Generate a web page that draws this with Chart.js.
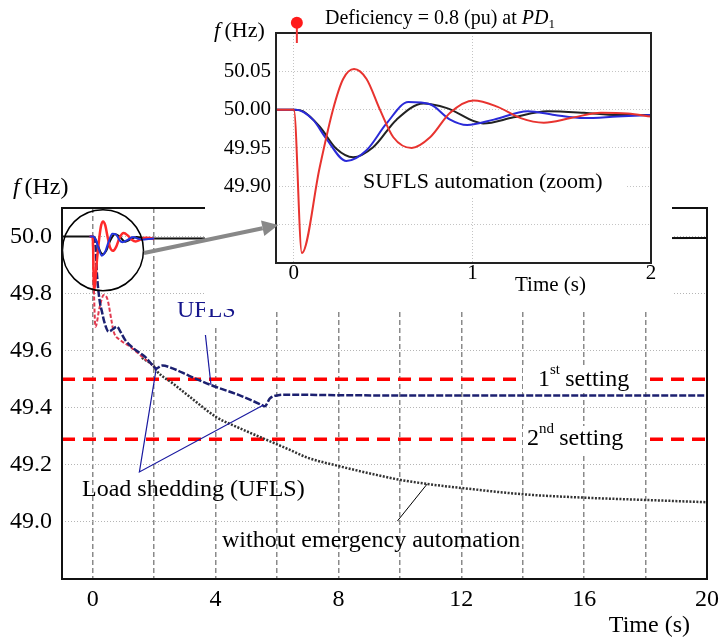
<!DOCTYPE html>
<html><head><meta charset="utf-8">
<script src="https://cdn.jsdelivr.net/npm/chart.js@4/dist/chart.umd.min.js"></script>
<style>
html,body{margin:0;padding:0;background:#fff;}
#wrap{position:relative;width:725px;height:643px;overflow:hidden;background:#fff;}
#main{position:absolute;left:0;top:0;}
#inset{position:absolute;left:140px;top:0;}
</style></head><body>
<div id="wrap"><canvas id="main" width="725" height="643"></canvas><canvas id="inset" width="540" height="310"></canvas></div>
<script>
const FONT = '"Liberation Serif","Times New Roman",serif';

// tick values
const mainXTicks = [0, 2, 4, 6, 8, 10, 12, 14, 16, 18, 20];
const mainYTicks = [49.0, 49.2, 49.4, 49.6, 49.8, 50.0];
const insetXTicks = [0, 1, 2];
const insetYTicks = [49.85, 49.90, 49.95, 50.00, 50.05];

// SUFLS automation curves (time s, frequency Hz)
const suflsRedT = [-0.1, 0, 0.045, 0.144, 0.219, 0.276, 0.337, 0.407, 0.482, 0.557, 0.66, 0.763, 0.875, 1.007, 1.138, 1.27, 1.40, 1.55, 1.72, 1.87, 2.0];
const suflsRedF = [50.0, 50.0, 49.813, 49.924, 50.0, 50.04, 50.053, 50.04, 50.0, 49.964, 49.95, 49.964, 49.996, 50.012, 50.004, 49.989, 49.983, 49.989, 49.996, 49.995, 49.991];
const suflsBlueT = [-0.1, 0, 0.013, 0.107, 0.182, 0.294, 0.407, 0.519, 0.641, 0.763, 0.875, 0.97, 1.12, 1.31, 1.46, 1.625, 1.81, 2.0];
const suflsBlueF = [50.0, 50.0, 50.0, 49.987, 49.962, 49.933, 49.947, 49.982, 50.010, 50.007, 49.987, 49.980, 49.987, 49.998, 49.993, 49.989, 49.991, 49.993];
const suflsBlackT = [-0.1, 0, 0.05, 0.144, 0.238, 0.332, 0.444, 0.575, 0.725, 0.857, 1.06, 1.23, 1.42, 1.625, 1.81, 2.0];
const suflsBlackF = [50.0, 50.0, 49.998, 49.978, 49.949, 49.938, 49.951, 49.987, 50.008, 50.002, 49.982, 49.990, 49.998, 49.996, 49.993, 49.993];
const preEventT = [-1];
const preEventF = [50.0];
const lateT = [20];
const lateF = [49.995];

// UFLS curve (navy)
const uflsT = [0, 0.05, 0.09, 0.14, 0.23, 0.30, 0.38, 0.52, 0.65, 0.79, 0.90, 1.06, 1.33, 1.70, 1.99, 2.06, 2.27, 2.60, 3.14, 3.84, 4.75, 5.50, 5.60, 5.77, 6.04, 6.37, 8, 12, 16, 20];
const uflsF = [50.0, 49.99, 49.97, 49.865, 49.772, 49.737, 49.70, 49.667, 49.675, 49.684, 49.667, 49.637, 49.608, 49.579, 49.544, 49.538, 49.548, 49.538, 49.512, 49.48, 49.445, 49.41, 49.405, 49.433, 49.444, 49.446, 49.444, 49.443, 49.443, 49.443];
// UFLS curve (red dashed)
const uflsRedT = [0, 0.03, 0.09, 0.22, 0.36, 0.48, 0.62, 0.68, 0.90, 1.22, 1.54, 1.87, 2.0];
const uflsRedF = [50.0, 49.85, 49.684, 49.75, 49.795, 49.78, 49.70, 49.667, 49.637, 49.614, 49.585, 49.556, 49.545];
// without emergency automation
const noAutoT = [1.6, 2.0, 2.11, 2.6, 3.14, 4.03, 4.75, 5.61, 6.0, 6.47, 7, 8, 9.27, 10.03, 10.89, 12.08, 14, 16, 18, 20];
const noAutoF = [49.575, 49.544, 49.526, 49.486, 49.44, 49.367, 49.33, 49.29, 49.272, 49.25, 49.225, 49.196, 49.164, 49.147, 49.133, 49.118, 49.097, 49.085, 49.077, 49.069];
// UFLS settings
const settingT = [-1, 20];
const setting1F = [49.5, 49.5];
const setting2F = [49.29, 49.29];

function pts(t, f) { return t.map((x, i) => ({ x: x, y: f[i] })); }

function fHz(ctx, x, y, size) {
  ctx.fillStyle = '#000';
  ctx.textAlign = 'left';
  ctx.textBaseline = 'alphabetic';
  ctx.font = 'italic ' + size + 'px ' + FONT;
  ctx.fillText('f', x, y);
  const w = ctx.measureText('f').width;
  ctx.font = size + 'px ' + FONT;
  ctx.fillText('(Hz)', x + w + size * 0.2, y);
}

function supText(ctx, x, y, a, sup, b, size, gapBox) {
  ctx.fillStyle = '#fff';
  ctx.fillRect(gapBox[0], gapBox[1], gapBox[2], gapBox[3]);
  ctx.fillStyle = '#000';
  ctx.textAlign = 'left';
  ctx.textBaseline = 'alphabetic';
  ctx.font = size + 'px ' + FONT;
  ctx.fillText(a, x, y);
  let cx = x + ctx.measureText(a).width;
  ctx.font = Math.round(size * 0.62) + 'px ' + FONT;
  ctx.fillText(sup, cx, y - size * 0.48);
  cx += ctx.measureText(sup).width + size * 0.22;
  ctx.font = size + 'px ' + FONT;
  ctx.fillText(b, cx, y);
}

const mainAnno = {
  id: 'mainAnno',
  afterDatasetsDraw(chart) {
    const ctx = chart.ctx, xs = chart.scales.x, ys = chart.scales.y, a = chart.chartArea;
    const P = (t, f) => [xs.getPixelForValue(t), ys.getPixelForValue(f)];
    ctx.save();
    supText(ctx, 538, 386, '1', 'st', 'setting', 24, [523, 366, 122, 27]);
    supText(ctx, 527, 445, '2', 'nd', 'setting', 24, [523, 426, 122, 27]);
    ctx.fillStyle = '#fff';
    ctx.fillRect(206, 300, 32, 27);
    ctx.fillStyle = '#16168c';
    ctx.font = '24px ' + FONT;
    ctx.textAlign = 'left';
    ctx.textBaseline = 'alphabetic';
    ctx.fillText('UFLS', 177, 317);
    ctx.strokeStyle = '#1a1aa0';
    ctx.lineWidth = 1.2;
    ctx.setLineDash([]);
    let p1 = P(3.67, 49.655), p2 = P(3.85, 49.48);
    ctx.beginPath(); ctx.moveTo(p1[0], p1[1]); ctx.lineTo(p2[0], p2[1]); ctx.stroke();
    const apex = P(1.52, 49.175), s1 = P(2.07, 49.539), s2 = P(5.56, 49.41);
    ctx.beginPath(); ctx.moveTo(s1[0], s1[1]); ctx.lineTo(apex[0], apex[1]); ctx.lineTo(s2[0], s2[1]); ctx.stroke();
    ctx.fillStyle = '#000';
    ctx.fillText('Load shedding (UFLS)', 82, 496);
    ctx.fillText('without emergency automation', 222, 547);
    ctx.strokeStyle = '#000';
    ctx.lineWidth = 1;
    p1 = P(9.92, 49.003); p2 = P(10.89, 49.133);
    ctx.beginPath(); ctx.moveTo(p1[0], p1[1]); ctx.lineTo(p2[0], p2[1]); ctx.stroke();
    const c = P(0.334, 49.952);
    ctx.lineWidth = 1.5;
    ctx.beginPath(); ctx.arc(c[0], c[1], 40.5, 0, Math.PI * 2); ctx.stroke();
    ctx.lineWidth = 2;
    ctx.strokeStyle = '#111';
    ctx.strokeRect(a.left, a.top, a.right - a.left, a.bottom - a.top);
    fHz(ctx, 13, 194, 24);
    ctx.font = '24px ' + FONT;
    ctx.textAlign = 'right';
    ctx.fillStyle = '#000';
    ctx.fillText('Time (s)', 690, 632);
    ctx.restore();
  }
};

new Chart(document.getElementById('main'), {
  type: 'line',
  data: { datasets: [
    { data: pts(suflsBlueT, suflsBlueF), borderColor: '#2233dd', borderWidth: 2, cubicInterpolationMode: 'monotone' },
    { data: pts(suflsRedT, suflsRedF), borderColor: '#ff2a2a', borderWidth: 2.5, cubicInterpolationMode: 'monotone' },
    { data: pts(preEventT.concat(suflsBlackT, lateT), preEventF.concat(suflsBlackF, lateF)), borderColor: '#111', borderWidth: 2, cubicInterpolationMode: 'monotone' },
    { data: pts(uflsT, uflsF), borderColor: '#1c2070', borderWidth: 2.5, borderDash: [7, 2], cubicInterpolationMode: 'monotone' },
    { data: pts(uflsRedT, uflsRedF), borderColor: '#e03a50', borderWidth: 2, borderDash: [4, 2], cubicInterpolationMode: 'monotone' },
    { data: pts(noAutoT, noAutoF), borderColor: '#333', borderWidth: 2.5, borderDash: [2, 1.5], cubicInterpolationMode: 'monotone' },
    { data: pts(settingT, setting1F), borderColor: '#ff0000', borderWidth: 3.5, borderDash: [13, 8] },
    { data: pts(settingT, setting2F), borderColor: '#ff0000', borderWidth: 3.5, borderDash: [13, 8] }
  ] },
  options: {
    responsive: false, animation: false, devicePixelRatio: 1,
    layout: { padding: { left: 0, right: 13, top: 208, bottom: 0 } },
    elements: { point: { radius: 0 }, line: { tension: 0 } },
    plugins: { legend: { display: false }, tooltip: { enabled: false } },
    scales: {
      x: {
        type: 'linear', min: -1, max: 20,
        afterBuildTicks: (s) => { s.ticks = mainXTicks.map(v => ({ value: v })); },
        afterFit: (s) => { s.height = 64; },
        ticks: { callback: (v) => (v % 4 === 0 ? String(v) : ''), font: { family: FONT, size: 24 }, color: '#000', padding: 6, maxRotation: 0, autoSkip: false },
        grid: { color: '#8a8a8a', lineWidth: 1.5, drawTicks: false },
        border: { display: false, dash: [5, 3] }
      },
      y: {
        type: 'linear', min: 48.8, max: 50.1,
        afterBuildTicks: (s) => { s.ticks = mainYTicks.map(v => ({ value: v })); },
        afterFit: (s) => { s.width = 62; },
        ticks: { callback: (v) => Number(v).toFixed(1), font: { family: FONT, size: 24 }, color: '#000', padding: 10, autoSkip: false },
        grid: { color: '#b5b5b5', lineWidth: 1, drawTicks: false },
        border: { display: false, dash: [1, 2] }
      }
    }
  },
  plugins: [mainAnno]
});

const insetAnno = {
  id: 'insetAnno',
  beforeDraw(chart) {
    const ctx = chart.ctx;
    ctx.save();
    ctx.fillStyle = '#fff';
    ctx.fillRect(65, 0, 467, 309);
    ctx.restore();
  },
  afterDatasetsDraw(chart) {
    const ctx = chart.ctx, a = chart.chartArea, xs = chart.scales.x;
    ctx.save();
    ctx.fillStyle = '#fff';
    ctx.fillRect(210, 168, 277, 28);
    ctx.fillStyle = '#000';
    ctx.font = '22px ' + FONT;
    ctx.textAlign = 'left';
    ctx.textBaseline = 'alphabetic';
    ctx.fillText('SUFLS automation (zoom)', 223, 188);
    ctx.strokeStyle = '#222';
    ctx.lineWidth = 2;
    ctx.strokeRect(a.left, a.top, a.right - a.left, a.bottom - a.top);
    ctx.font = '20px ' + FONT;
    const t1 = 'Deficiency = 0.8 (pu) at ';
    ctx.fillText(t1, 185, 24);
    let cx = 185 + ctx.measureText(t1).width;
    ctx.font = 'italic 20px ' + FONT;
    ctx.fillText('PD', cx, 24);
    cx += ctx.measureText('PD').width;
    ctx.font = '13px ' + FONT;
    ctx.fillText('1', cx, 28);
    const mx = xs.getPixelForValue(0) + 3;
    ctx.strokeStyle = '#ee3333';
    ctx.lineWidth = 2;
    ctx.beginPath(); ctx.moveTo(mx, 23); ctx.lineTo(mx, 43); ctx.stroke();
    ctx.fillStyle = '#ff1a1a';
    ctx.beginPath(); ctx.arc(mx, 22.7, 6, 0, Math.PI * 2); ctx.fill();
    fHz(ctx, 74, 37, 22);
    ctx.font = '21px ' + FONT;
    ctx.fillStyle = '#000';
    ctx.textAlign = 'left';
    ctx.fillText('Time (s)', 375, 291);
    ctx.restore();
  },
  afterDraw(chart) {
    const ctx = chart.ctx;
    const x0 = 4, y0 = 253, x1 = 138.3, y1 = 225;
    const dx = x1 - x0, dy = y1 - y0, L = Math.hypot(dx, dy), ux = dx / L, uy = dy / L;
    const hl = 16, hw = 8;
    const bx = x1 - ux * hl, by = y1 - uy * hl;
    ctx.save();
    ctx.strokeStyle = '#888';
    ctx.fillStyle = '#888';
    ctx.lineWidth = 4;
    ctx.beginPath(); ctx.moveTo(x0, y0); ctx.lineTo(bx, by); ctx.stroke();
    ctx.beginPath();
    ctx.moveTo(x1, y1);
    ctx.lineTo(bx - uy * hw, by + ux * hw);
    ctx.lineTo(bx + uy * hw, by - ux * hw);
    ctx.closePath(); ctx.fill();
    ctx.restore();
  }
};

new Chart(document.getElementById('inset'), {
  type: 'line',
  data: { datasets: [
    { data: pts(suflsRedT, suflsRedF), borderColor: '#e8332f', borderWidth: 2, cubicInterpolationMode: 'monotone' },
    { data: pts(suflsBlueT, suflsBlueF), borderColor: '#2a2ad8', borderWidth: 2, cubicInterpolationMode: 'monotone' },
    { data: pts(suflsBlackT, suflsBlackF), borderColor: '#222', borderWidth: 2, cubicInterpolationMode: 'monotone' }
  ] },
  options: {
    responsive: false, animation: false, devicePixelRatio: 1,
    layout: { padding: { left: 0, right: 29, top: 33, bottom: 0 } },
    elements: { point: { radius: 0 }, line: { tension: 0 } },
    plugins: { legend: { display: false }, tooltip: { enabled: false } },
    scales: {
      x: {
        type: 'linear', min: -0.1, max: 2,
        afterBuildTicks: (s) => { s.ticks = insetXTicks.map(v => ({ value: v })); },
        afterFit: (s) => { s.height = 47; },
        ticks: { callback: (v) => String(v), font: { family: FONT, size: 21, lineHeight: 1 }, color: '#000', padding: 0, maxRotation: 0, autoSkip: false },
        grid: { color: '#c4c4c4', lineWidth: 1, drawTicks: false },
        border: { display: false, dash: [1, 2] }
      },
      y: {
        type: 'linear', min: 49.8, max: 50.1,
        afterBuildTicks: (s) => { s.ticks = insetYTicks.map(v => ({ value: v })); },
        afterFit: (s) => { s.width = 136; },
        ticks: { callback: (v) => (Math.abs(v - 49.85) < 1e-6 ? '' : Number(v).toFixed(2)), font: { family: FONT, size: 21 }, color: '#000', padding: 5, autoSkip: false },
        grid: { color: '#c4c4c4', lineWidth: 1, drawTicks: false },
        border: { display: false, dash: [1, 2] }
      }
    }
  },
  plugins: [insetAnno]
});
</script>
</body></html>
